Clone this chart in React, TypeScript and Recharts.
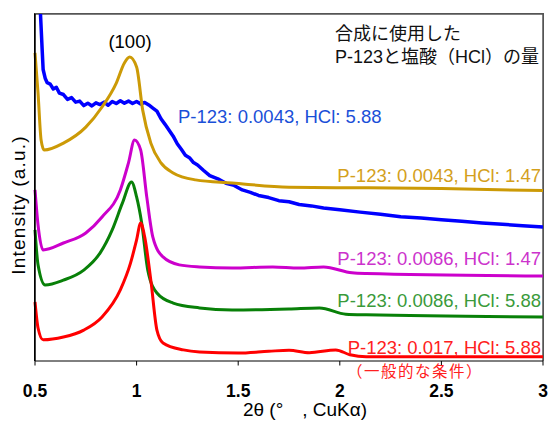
import { LineChart, Line, XAxis, YAxis, ReferenceLine } from 'recharts';

// 2θ (deg) vs relative intensity (0-100, the axis carries no numbers)
const xTicks = [0.5, 1, 1.5, 2, 2.5, 3];

// P-123: 0.0043, HCl: 5.88 (noisy trace)
const blueData: [number, number][] = [
  [0.527, 100], [0.535, 90], [0.54, 84], [0.55, 81.5], [0.56, 80.2], [0.575, 79.8],
  [0.59, 78.4], [0.605, 78.9], [0.62, 77.2], [0.64, 76.8], [0.66, 75.4], [0.68, 75.9],
  [0.7, 74.6], [0.72, 74.9], [0.74, 73.6], [0.76, 74.3], [0.78, 73.5], [0.8, 74.4],
  [0.82, 73.9], [0.84, 74.6], [0.86, 73.7], [0.88, 74.8], [0.9, 74.2], [0.92, 75.0],
  [0.94, 74.3], [0.96, 74.9], [0.98, 74.2], [1.0, 74.8], [1.02, 74.1], [1.04, 74.5],
  [1.06, 73.8], [1.08, 72.9], [1.1, 72.0], [1.12, 69.8], [1.14, 68.2], [1.16, 66.5],
  [1.18, 64.8], [1.2, 62.6], [1.22, 61.0], [1.24, 59.3], [1.26, 58.6], [1.28, 57.2],
  [1.3, 56.5], [1.33, 54.9], [1.36, 53.4], [1.4, 52.5], [1.44, 51.2], [1.48, 50.6],
  [1.52, 49.3], [1.56, 48.6], [1.6, 47.7], [1.65, 47.1], [1.7, 46.2], [1.75, 45.9],
  [1.8, 45.1], [1.86, 44.7], [1.92, 44.1], [2.0, 43.6], [2.1, 42.9], [2.2, 42.3],
  [2.3, 41.6], [2.4, 41.2], [2.5, 40.7], [2.6, 40.3], [2.7, 39.8], [2.8, 39.4],
  [2.9, 39.0], [3.0, 38.6],
];

// P-123: 0.0043, HCl: 1.47
const goldData: [number, number][] = [
  [0.5, 88.8], [0.515, 77.2], [0.53, 63.7], [0.545, 60.8], [0.64, 62.8], [0.75, 67.4],
  [0.83, 73.2], [0.9, 80.1], [0.94, 85.9], [0.966, 87.6], [1.0, 84.7], [1.03, 72.3],
  [1.07, 62.8], [1.12, 57.1], [1.18, 54.2], [1.29, 52.2], [1.47, 51.3], [1.75, 50.1],
  [2.13, 49.9], [2.5, 49.7], [3.0, 49.1],
];

// P-123: 0.0086, HCl: 1.47
const magentaData: [number, number][] = [
  [0.5, 49.3], [0.515, 39.2], [0.54, 32], [0.64, 34], [0.75, 36.9], [0.83, 41.5],
  [0.92, 49.3], [0.96, 57.1], [0.99, 63.7], [1.02, 60.8], [1.05, 47.3], [1.08, 35.7],
  [1.13, 30], [1.21, 27.7], [1.31, 27.1], [1.47, 26.8], [1.67, 27.1], [1.8, 26.8],
  [1.92, 27.1], [2.06, 25.4], [2.13, 25.2], [3.0, 24.5],
];

// P-123: 0.0086, HCl: 5.88
const greenData: [number, number][] = [
  [0.5, 37.8], [0.515, 27.7], [0.55, 21.9], [0.64, 23.3], [0.74, 26.2], [0.82, 31.1],
  [0.88, 37.8], [0.93, 45.5], [0.975, 51.6], [1.0, 47.3], [1.025, 39.8], [1.055, 26.2],
  [1.1, 19.6], [1.18, 16.7], [1.31, 15.3], [1.47, 14.7], [1.75, 15], [1.9, 15.3],
  [2.03, 13.5], [2.13, 13.3], [3.0, 12.7],
];

// P-123: 0.017, HCl: 5.88
const redData: [number, number][] = [
  [0.5, 17], [0.515, 9.5], [0.54, 6.1], [0.64, 6.9], [0.74, 8.9], [0.83, 12.7],
  [0.92, 20.5], [0.97, 28.2], [1.0, 34.9], [1.02, 39.8], [1.04, 35.7], [1.07, 23.3],
  [1.1, 8.9], [1.13, 5.2], [1.23, 3.2], [1.31, 2.6], [1.5, 2.3], [1.65, 2.8],
  [1.75, 3.1], [1.85, 2.4], [1.98, 3.2], [2.05, 1.8], [2.13, 1.2], [3.0, 1.2],
];

const toPoints = (arr: [number, number][]) => arr.map(([x, y]) => ({ x, y }));

const series = [
  { name: 'blue', data: toPoints(blueData), color: '#0000ff', width: 3.5, type: 'linear' },
  { name: 'gold', data: toPoints(goldData), color: '#cc9a06', width: 3, type: 'monotone' },
  { name: 'magenta', data: toPoints(magentaData), color: '#cc00cc', width: 3, type: 'monotone' },
  { name: 'green', data: toPoints(greenData), color: '#088008', width: 3, type: 'monotone' },
  { name: 'red', data: toPoints(redData), color: '#ff0000', width: 3, type: 'monotone' },
];

const font = "Arial, 'Liberation Sans', sans-serif";
const jpFont = "Arial, 'Liberation Sans', 'Noto Sans CJK JP', sans-serif";
const cjkFont = "'Noto Sans CJK JP', sans-serif";

export default function App() {
  return (
    <div style={{ position: 'absolute', left: 0, top: 0, width: 551, height: 425, background: '#fff' }}>
      <LineChart width={551} height={425} margin={{ top: 14, right: 8, bottom: 34, left: 0 }}>
        <XAxis
          type="number"
          dataKey="x"
          domain={[0.5, 3]}
          ticks={xTicks}
          stroke="#000"
          tickSize={4.5}
          tickMargin={19}
          tick={{ fill: '#000', fontSize: 17.5, fontWeight: 'bold', fontFamily: font }}
          label={{
            value: '2θ (°　, CuKα)',
            position: 'bottom',
            offset: 12,
            dx: 16,
            style: { fill: '#000', fontSize: 19, fontFamily: jpFont },
          }}
        />
        <YAxis
          type="number"
          domain={[0, 100]}
          width={35}
          axisLine={{ stroke: '#000', strokeWidth: 1.5 }}
          tickLine={false}
          tickFormatter={() => ''}
        />
        <ReferenceLine y={100} stroke="#555" strokeWidth={1.5} ifOverflow="extendDomain" />
        <ReferenceLine x={3} stroke="#555" strokeWidth={1.5} ifOverflow="extendDomain" />
        {series.map((s) => (
          <Line
            key={s.name}
            data={s.data}
            dataKey="y"
            type={s.type as 'linear' | 'monotone'}
            stroke={s.color}
            strokeWidth={s.width}
            strokeLinejoin="round"
            dot={false}
            isAnimationActive={false}
          />
        ))}
      </LineChart>
      {/* plot box border, same box the chart margins give */}
      <div
        style={{
          position: 'absolute',
          left: 34,
          top: 13,
          width: 508,
          height: 347,
          borderLeft: '1.5px solid #000',
          borderTop: '1.5px solid #555',
          borderRight: '1.5px solid #555',
          pointerEvents: 'none',
          zIndex: 5,
        }}
      />
      <svg
        width={551}
        height={425}
        style={{ position: 'absolute', left: 0, top: 0, pointerEvents: 'none', zIndex: 6 }}
      >
        <text
          x={18.5}
          y={205}
          transform="rotate(-90 18.5 205)"
          textAnchor="middle"
          dominantBaseline="central"
          fontSize={19}
          letterSpacing={1.2}
          fontFamily={font}
          fill="#000"
        >
          Intensity (a.u.)
        </text>
        <text x={130} y={48} textAnchor="middle" fontSize={18.5} fontFamily={font} fill="#000">(100)</text>
        <text x={335} y={40} fontSize={18} fontFamily={jpFont} fill="#111">合成に使用した</text>
        <text x={335} y={63} fontSize={18} fontFamily={jpFont} fill="#111">P-123と塩酸（HCl）の量</text>
        <text x={178} y={123} fontSize={18.5} fontFamily={font} fill="#1a4fd8">P-123: 0.0043, HCl: 5.88</text>
        <text x={541} y={182} textAnchor="end" fontSize={18.5} fontFamily={font} fill="#d4a01c">P-123: 0.0043, HCl: 1.47</text>
        <text x={541} y={265} textAnchor="end" fontSize={18.5} fontFamily={font} fill="#cc33cc">P-123: 0.0086, HCl: 1.47</text>
        <text x={541} y={307} textAnchor="end" fontSize={18.5} fontFamily={font} fill="#3a9a3a">P-123: 0.0086, HCl: 5.88</text>
        <text x={541} y={354} textAnchor="end" fontSize={18.5} fontFamily={font} fill="#ff2020">P-123: 0.017, HCl: 5.88</text>
        <text x={347} y={377} fontSize={15.5} letterSpacing={1.5} fontFamily={cjkFont} fill="#ff2020">（一般的な条件）</text>
      </svg>
    </div>
  );
}
